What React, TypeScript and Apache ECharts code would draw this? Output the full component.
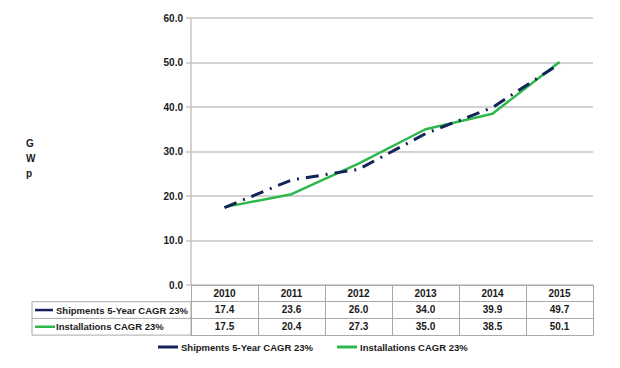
import React, { useEffect, useRef } from "react";
import * as echarts from "echarts";

const years = ["2010", "2011", "2012", "2013", "2014", "2015"];
const shipments = [17.4, 23.6, 26.0, 34.0, 39.9, 49.7];
const installations = [17.5, 20.4, 27.3, 35.0, 38.5, 50.1];
const shipmentsName = "Shipments 5-Year CAGR 23%";
const installationsName = "Installations CAGR 23%";
const unitLabel = "G\nW\np";
const yMin = 0;
const yMax = 60;
const yStep = 10;

const FONT = "'Liberation Sans', Arial, sans-serif";
const NAVY = "#14225a";
const GREEN = "#2db84c";
const GRID_GRAY = "#c4c4c4";
const TABLE_GRAY = "#a9a9a9";
const TEXT = "#1a1a1a";

const GL = 191;
const GR = 593;
const GT = 18;
const GB = 285;
const ROW = 16.7;
const TL = 32;

export default function App() {
  const ref = useRef<HTMLDivElement>(null);
  useEffect(() => {
    if (!ref.current) return;
    const chart = echarts.init(ref.current, undefined, { renderer: "svg" });
    const labelStyle = { fontFamily: FONT, fontWeight: "bold" as const, fontSize: 10, color: TEXT };
    const nameStyle = { fontFamily: FONT, fontWeight: "bold" as const, fontSize: 9.5, color: TEXT };
    const rowAxis = (data: string[], offset: number, showLabel: boolean) => ({
      type: "category",
      data,
      position: "bottom",
      offset,
      axisLine: { show: true, lineStyle: { color: TABLE_GRAY, width: 1 } },
      axisTick: { show: false },
      axisLabel: { show: showLabel, margin: 3, interval: 0, ...labelStyle },
      splitLine: { show: false },
    });
    chart.setOption({
      animation: false,
      backgroundColor: "#ffffff",
      grid: { left: GL, top: GT, width: GR - GL, height: GB - GT, containLabel: false },
      xAxis: [
        {
          type: "category",
          data: years,
          position: "bottom",
          boundaryGap: true,
          axisLine: { show: true, lineStyle: { color: TABLE_GRAY, width: 1 } },
          axisTick: { show: true, interval: 0, length: ROW * 3, lineStyle: { color: TABLE_GRAY, width: 1 } },
          axisLabel: { margin: 3, interval: 0, ...labelStyle },
          splitLine: { show: false },
        },
        rowAxis(shipments.map((v) => v.toFixed(1)), ROW, true),
        rowAxis(installations.map((v) => v.toFixed(1)), ROW * 2, true),
        rowAxis(years, ROW * 3, false),
      ],
      yAxis: {
        type: "value",
        min: yMin,
        max: yMax,
        interval: yStep,
        axisLine: { show: true, lineStyle: { color: GRID_GRAY, width: 1.5 } },
        axisTick: { show: true, length: 5, lineStyle: { color: GRID_GRAY, width: 1.5 } },
        axisLabel: { margin: 8, formatter: (v: number) => v.toFixed(1), ...labelStyle },
        splitLine: { show: true, lineStyle: { color: GRID_GRAY, width: 1.5 } },
      },
      legend: {
        top: 337,
        left: 153,
        icon: "rect",
        itemWidth: 20,
        itemHeight: 3,
        itemGap: 24,
        textStyle: { ...nameStyle, padding: [0, 0, 0, -2] },
        data: [shipmentsName, installationsName],
      },
      series: [
        {
          name: shipmentsName,
          type: "line",
          data: shipments,
          showSymbol: false,
          symbol: "none",
          color: NAVY,
          lineStyle: { color: NAVY, width: 3, type: [13, 7, 2, 7] },
          z: 3,
        },
        {
          name: installationsName,
          type: "line",
          data: installations,
          showSymbol: false,
          symbol: "none",
          color: GREEN,
          lineStyle: { color: GREEN, width: 2.5 },
          z: 2,
        },
      ],
      graphic: [
        {
          type: "text",
          left: 26,
          top: 136,
          style: { text: unitLabel, fontFamily: FONT, fontWeight: "bold", fontSize: 10, fill: TEXT, lineHeight: 15, align: "center" },
        },
        {
          type: "rect",
          shape: { x: TL, y: GB + ROW, width: GL - TL, height: ROW * 2 },
          style: { fill: "none", stroke: TABLE_GRAY, lineWidth: 1 },
        },
        {
          type: "line",
          shape: { x1: TL, y1: GB + ROW * 2, x2: GL, y2: GB + ROW * 2 },
          style: { stroke: TABLE_GRAY, lineWidth: 1 },
        },
        {
          type: "line",
          shape: { x1: TL + 3, y1: GB + ROW * 1.5, x2: TL + 21, y2: GB + ROW * 1.5 },
          style: { stroke: NAVY, lineWidth: 2.5 },
        },
        {
          type: "text",
          x: TL + 24,
          y: GB + ROW * 1.5,
          style: { text: shipmentsName, fontFamily: FONT, fontWeight: "bold", fontSize: 9.5, fill: TEXT, verticalAlign: "middle" },
        },
        {
          type: "line",
          shape: { x1: TL + 3, y1: GB + ROW * 2.5, x2: TL + 23, y2: GB + ROW * 2.5 },
          style: { stroke: GREEN, lineWidth: 2.5 },
        },
        {
          type: "text",
          x: TL + 24,
          y: GB + ROW * 2.5,
          style: { text: installationsName, fontFamily: FONT, fontWeight: "bold", fontSize: 9.5, fill: TEXT, verticalAlign: "middle" },
        },
      ],
    });
    return () => chart.dispose();
  }, []);
  return <div ref={ref} style={{ width: 620, height: 368, position: "absolute", left: 0, top: 0 }} />;
}
